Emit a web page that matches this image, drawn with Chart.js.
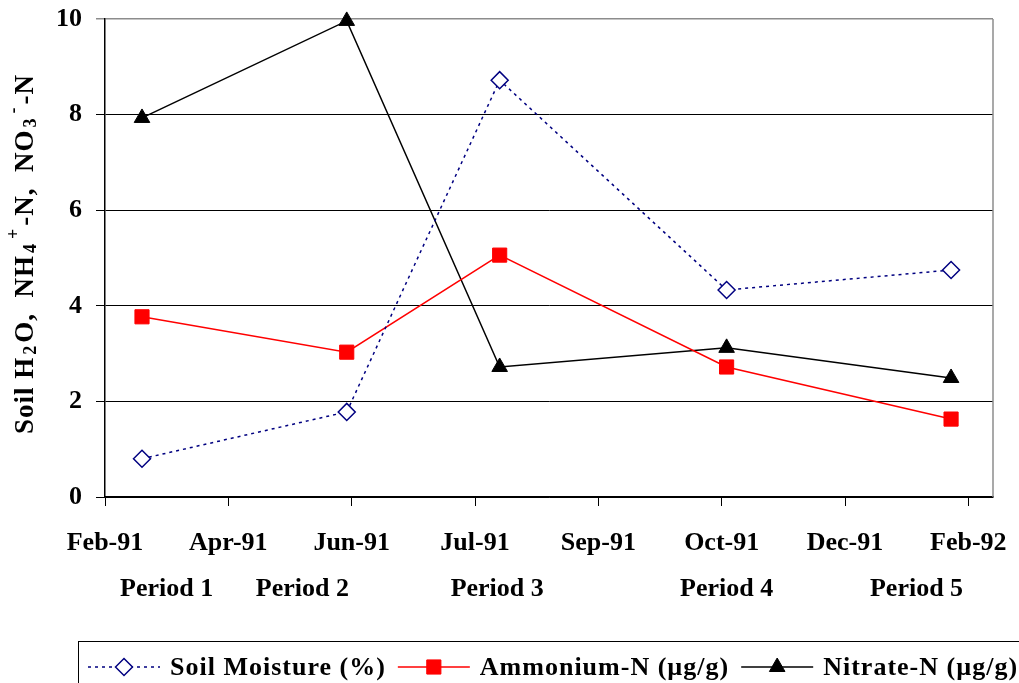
<!DOCTYPE html>
<html>
<head>
<meta charset="utf-8">
<script src="https://cdn.jsdelivr.net/npm/chart.js@4/dist/chart.umd.min.js"></script>
<style>
  html, body { margin: 0; padding: 0; background: #fff; }
</style>
</head>
<body>
<canvas id="chart" width="1019" height="683"></canvas>
<script>
// sampling dates, in days after the first axis tick (late Feb 1991)
var sampleDays = [15, 98, 160, 252, 343];
var soilMoisture = [0.80, 1.78, 8.72, 4.33, 4.75];
var ammonium = [3.77, 3.03, 5.06, 2.72, 1.63];
var nitrate = [7.93, 9.96, 2.72, 3.12, 2.49];

var seriesNames = ['Soil Moisture (%)', 'Ammonium-N (\u00b5g/g)', 'Nitrate-N (\u00b5g/g)'];
var tickLabels = ['Feb-91', 'Apr-91', 'Jun-91', 'Jul-91', 'Sep-91', 'Oct-91', 'Dec-91', 'Feb-92'];
var tickStep = 50;   // days between date ticks
var periodLabels = ['Period 1', 'Period 2', 'Period 3', 'Period 4', 'Period 5'];
var periodDays = [25, 80, 159, 252, 329];

var serif = "'Liberation Serif', 'Times New Roman', serif";

function toPoints(ys) {
  return ys.map(function (y, i) { return { x: sampleDays[i], y: y }; });
}

// y title with sub/superscripts, period labels, right border, legend box
var extras = {
  id: 'extras',
  afterDraw: function (chart) {
    var ctx = chart.ctx, area = chart.chartArea, xs = chart.scales.x;
    ctx.save();

    ctx.strokeStyle = '#8c8c8c';
    ctx.lineWidth = 1.5;
    ctx.beginPath();
    ctx.moveTo(area.right, area.top);
    ctx.lineTo(area.right, area.bottom);
    ctx.stroke();

    ctx.fillStyle = '#000';
    ctx.font = 'bold 26px ' + serif;
    ctx.textAlign = 'center';
    ctx.textBaseline = 'alphabetic';
    periodLabels.forEach(function (t, i) {
      ctx.fillText(t, xs.getPixelForValue(periodDays[i]), 596);
    });

    // axis title: 0 normal, 1 subscript, 2 superscript
    var parts = [['Soil H', 0], ['2', 1], ['O,  NH', 0], ['4', 1], ['+', 2], ['-N,  NO', 0], ['3', 1], ['-', 2], ['-N', 0]];
    var big = 'bold 27px ' + serif, small = 'bold 18px ' + serif;
    ctx.letterSpacing = '1px';
    var total = 0;
    parts.forEach(function (p) {
      ctx.font = p[1] ? small : big;
      p.w = ctx.measureText(p[0]).width + (p[1] ? 4 : 0);
      total += p.w;
    });
    ctx.save();
    ctx.translate(33, (area.top + area.bottom) / 2);
    ctx.rotate(-Math.PI / 2);
    ctx.textAlign = 'left';
    var px = -total / 2 + 4;
    parts.forEach(function (p) {
      ctx.font = p[1] ? small : big;
      var dy = p[1] === 1 ? 3 : (p[1] === 2 ? -14 : 0);
      ctx.fillText(p[0], px + (p[1] ? 2 : 0), dy);
      px += p.w;
    });
    ctx.restore();

    // legend
    var ly = 667;
    ctx.strokeStyle = '#000';
    ctx.lineWidth = 1;
    ctx.strokeRect(78.5, 641.5, 1000, 60);
    ctx.font = 'bold 26px ' + serif;
    ctx.letterSpacing = '1px';
    ctx.textAlign = 'left';
    var lx = 88;
    chart.data.datasets.forEach(function (ds) {
      ctx.save();
      ctx.strokeStyle = ds.borderColor;
      ctx.lineWidth = ds.borderWidth;
      ctx.setLineDash(ds.borderDash || []);
      ctx.beginPath();
      ctx.moveTo(lx, ly);
      ctx.lineTo(lx + 72, ly);
      ctx.stroke();
      ctx.setLineDash([]);
      ctx.fillStyle = ds.pointBackgroundColor;
      ctx.strokeStyle = ds.pointBorderColor;
      ctx.lineWidth = ds.pointBorderWidth;
      Chart.helpers.drawPoint(ctx, {
        pointStyle: ds.pointStyle, radius: ds.pointRadius, rotation: 0, borderWidth: ds.pointBorderWidth
      }, lx + 36, ly);
      ctx.restore();
      ctx.fillStyle = '#000';
      ctx.fillText(ds.label, lx + 82, 675);
      lx += 82 + ctx.measureText(ds.label).width + 12;
    });

    ctx.restore();
  }
};

new Chart(document.getElementById('chart'), {
  type: 'line',
  data: {
    datasets: [{
      label: seriesNames[0],
      data: toPoints(soilMoisture),
      borderColor: '#000080',
      borderWidth: 1.5,
      borderDash: [3, 4],
      pointStyle: 'rectRot',
      pointRadius: 8.5,
      pointBackgroundColor: '#fff',
      pointBorderColor: '#000080',
      pointBorderWidth: 1.5,
      clip: false
    }, {
      label: seriesNames[1],
      data: toPoints(ammonium),
      borderColor: '#ff0000',
      borderWidth: 1.5,
      pointStyle: 'rect',
      pointRadius: 10,
      pointBackgroundColor: '#ff0000',
      pointBorderColor: '#ff0000',
      pointBorderWidth: 1,
      clip: false
    }, {
      label: seriesNames[2],
      data: toPoints(nitrate),
      borderColor: '#000',
      borderWidth: 1.5,
      pointStyle: 'triangle',
      pointRadius: 9,
      pointBackgroundColor: '#000',
      pointBorderColor: '#000',
      pointBorderWidth: 1,
      clip: false
    }]
  },
  options: {
    responsive: false,
    animation: false,
    devicePixelRatio: 1,
    layout: { padding: { top: 19, right: 26, left: 0, bottom: 0 } },
    plugins: { legend: { display: false }, tooltip: { enabled: false } },
    scales: {
      x: {
        type: 'linear',
        min: 0,
        max: 360,
        afterBuildTicks: function (axis) {
          axis.ticks = tickLabels.map(function (t, i) { return { value: i * tickStep }; });
        },
        afterFit: function (scale) {
          scale.height = 186;
          scale.paddingLeft = 0;
          scale.paddingRight = 0;
        },
        grid: { drawOnChartArea: false, color: '#000', tickLength: 9 },
        border: { color: '#000', width: 1.5 },
        ticks: {
          autoSkip: false,
          maxRotation: 0,
          padding: 22,
          color: '#000',
          font: { family: serif, size: 26, weight: 'bold' },
          callback: function (v, i) { return tickLabels[i]; }
        }
      },
      y: {
        min: 0,
        max: 10,
        afterFit: function (scale) {
          scale.width = 105;
          scale.paddingTop = 0;
          scale.paddingBottom = 0;
        },
        grid: {
          tickLength: 9,
          color: function (c) { return c.tick && c.tick.value === 10 ? '#8c8c8c' : '#000'; },
          lineWidth: function (c) { return c.tick && c.tick.value === 10 ? 1.5 : 1; }
        },
        border: { color: '#000', width: 1.5 },
        ticks: {
          stepSize: 2,
          padding: 14,
          color: '#000',
          font: { family: serif, size: 26, weight: 'bold' }
        }
      }
    }
  },
  plugins: [extras]
});
</script>
</body>
</html>
